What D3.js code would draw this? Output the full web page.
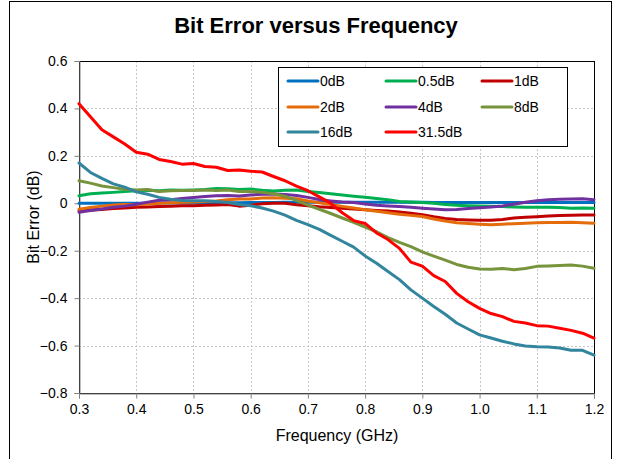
<!DOCTYPE html>
<html>
<head>
<meta charset="utf-8">
<script src="https://cdn.jsdelivr.net/npm/d3@7/dist/d3.min.js"></script>
<style>
  html, body { margin: 0; padding: 0; background: #fff; }
  svg { display: block; font-family: "Liberation Sans", Arial, sans-serif; }
</style>
</head>
<body>
<svg id="chart" width="621" height="459"></svg>
<script>
const frequency = [0.30,0.32,0.34,0.36,0.38,0.40,0.42,0.44,0.46,0.48,0.50,0.52,0.54,0.56,0.58,0.60,0.62,0.64,0.66,0.68,0.70,0.72,0.74,0.76,0.78,0.80,0.82,0.84,0.86,0.88,0.90,0.92,0.94,0.96,0.98,1.00,1.02,1.04,1.06,1.08,1.10,1.12,1.14,1.16,1.18,1.20];

const seriesNames = ["0dB","0.5dB","1dB","2dB","4dB","8dB","16dB","31.5dB"];
const seriesColors = ["#0070C0","#00B050","#C00000","#E46C0A","#7030A0","#77933C","#31859C","#FF0000"];

const err0dB = [0.000,0.000,0.000,0.000,0.000,0.000,0.000,0.001,0.001,0.001,0.001,0.002,0.002,0.002,0.002,0.003,0.003,0.003,0.004,0.004,0.004,0.004,0.004,0.004,0.004,0.004,0.004,0.004,0.004,0.004,0.004,0.003,0.003,0.003,0.003,0.003,0.003,0.003,0.003,0.003,0.003,0.003,0.003,0.003,0.003,0.003];
const err05dB = [0.032,0.040,0.043,0.046,0.050,0.053,0.055,0.053,0.056,0.055,0.056,0.058,0.062,0.061,0.058,0.060,0.055,0.052,0.055,0.056,0.050,0.045,0.040,0.035,0.030,0.025,0.020,0.015,0.008,0.005,0.003,0.000,-0.005,-0.008,-0.010,-0.011,-0.012,-0.014,-0.016,-0.017,-0.017,-0.017,-0.018,-0.021,-0.020,-0.021];
const err1dB = [-0.032,-0.028,-0.026,-0.022,-0.020,-0.017,-0.016,-0.014,-0.012,-0.010,-0.010,-0.008,-0.007,-0.005,-0.012,-0.008,-0.002,0.000,0.000,-0.006,-0.010,-0.015,-0.018,-0.021,-0.024,-0.027,-0.030,-0.033,-0.037,-0.042,-0.048,-0.057,-0.064,-0.068,-0.070,-0.072,-0.072,-0.068,-0.062,-0.059,-0.057,-0.054,-0.052,-0.050,-0.049,-0.049];
const err2dB = [-0.025,-0.018,-0.012,-0.007,-0.005,-0.006,-0.003,0.000,0.002,0.004,0.005,0.008,0.010,0.015,0.018,0.018,0.022,0.023,0.021,0.019,0.010,0.002,-0.005,-0.013,-0.020,-0.027,-0.034,-0.040,-0.046,-0.051,-0.056,-0.066,-0.075,-0.082,-0.085,-0.088,-0.090,-0.088,-0.086,-0.084,-0.082,-0.081,-0.081,-0.080,-0.082,-0.084];
const err4dB = [-0.038,-0.030,-0.024,-0.017,-0.012,-0.004,0.005,0.013,0.015,0.020,0.024,0.029,0.032,0.033,0.031,0.035,0.038,0.039,0.037,0.033,0.025,0.016,0.010,0.005,0.003,-0.003,-0.008,-0.011,-0.014,-0.017,-0.021,-0.024,-0.027,-0.026,-0.022,-0.019,-0.016,-0.011,-0.004,0.004,0.011,0.015,0.017,0.018,0.019,0.015];
const err8dB = [0.095,0.085,0.073,0.066,0.059,0.056,0.058,0.050,0.053,0.054,0.054,0.056,0.054,0.056,0.050,0.050,0.046,0.040,0.030,0.012,-0.008,-0.025,-0.043,-0.062,-0.080,-0.100,-0.120,-0.145,-0.165,-0.183,-0.205,-0.223,-0.240,-0.258,-0.270,-0.277,-0.278,-0.275,-0.280,-0.275,-0.266,-0.264,-0.262,-0.260,-0.265,-0.274];
const err16dB = [0.170,0.130,0.105,0.082,0.068,0.048,0.038,0.025,0.017,0.012,0.011,0.011,0.008,0.003,-0.005,-0.010,-0.020,-0.033,-0.050,-0.072,-0.090,-0.110,-0.135,-0.160,-0.185,-0.222,-0.253,-0.288,-0.322,-0.365,-0.400,-0.435,-0.468,-0.505,-0.530,-0.555,-0.568,-0.582,-0.593,-0.602,-0.605,-0.606,-0.610,-0.620,-0.620,-0.640];
const err315dB = [0.420,0.365,0.310,0.280,0.250,0.215,0.207,0.185,0.176,0.165,0.168,0.155,0.152,0.138,0.140,0.135,0.132,0.113,0.095,0.072,0.053,0.027,0.000,-0.040,-0.073,-0.085,-0.125,-0.153,-0.190,-0.248,-0.265,-0.305,-0.330,-0.380,-0.415,-0.443,-0.465,-0.478,-0.498,-0.505,-0.516,-0.518,-0.527,-0.536,-0.548,-0.569];

const xTicks = [0.3,0.4,0.5,0.6,0.7,0.8,0.9,1.0,1.1,1.2];
const yTicks = [0.6,0.4,0.2,0,-0.2,-0.4,-0.6,-0.8];

const seriesValues = [err0dB, err05dB, err1dB, err2dB, err4dB, err8dB, err16dB, err315dB];
const series = seriesNames.map((name, i) => ({
  name, color: seriesColors[i],
  points: frequency.map((f, j) => ({ f, v: seriesValues[i][j] }))
}));

const svg = d3.select("#chart");

// outer chart frame
svg.append("rect").attr("x", 9.5).attr("y", 1.5).attr("width", 602).attr("height", 470)
  .attr("fill", "#fff").attr("stroke", "#000").attr("stroke-width", 1);

const L = 79, R = 594, T = 61, B = 393;
const x = d3.scaleLinear().domain([0.3, 1.2]).range([L, R]);
const y = d3.scaleLinear().domain([-0.8, 0.6]).range([B, T]);

// gridlines
const grid = svg.append("g").attr("stroke", "#c8c8c8").attr("stroke-width", 1).attr("stroke-dasharray", "2,2");
grid.selectAll("line.v").data(xTicks.slice(1, -1)).join("line")
  .attr("x1", d => Math.round(x(d)) + 0.5).attr("x2", d => Math.round(x(d)) + 0.5)
  .attr("y1", T).attr("y2", B);
grid.selectAll("line.h").data(yTicks.slice(1, -1)).join("line")
  .attr("y1", d => Math.round(y(d)) + 0.5).attr("y2", d => Math.round(y(d)) + 0.5)
  .attr("x1", L).attr("x2", R);

// plot border
svg.append("rect").attr("x", L + 0.5).attr("y", T + 0.5).attr("width", R - L).attr("height", B - T)
  .attr("fill", "none").attr("stroke", "#000").attr("stroke-width", 1);

// axes
const xAxis = d3.axisBottom(x).tickValues(xTicks).tickFormat(d3.format(".1f")).tickSizeOuter(0).tickSize(5).tickPadding(6);
const yAxis = d3.axisLeft(y).tickValues(yTicks).tickFormat(d => d === 0 ? "0" : d3.format(".1f")(d)).tickSizeOuter(0).tickSize(5).tickPadding(7);

const gx = svg.append("g").attr("transform", `translate(0,${B + 0.5})`).call(xAxis);
const gy = svg.append("g").attr("transform", `translate(${L + 0.5},0)`).call(yAxis);
[gx, gy].forEach(g => {
  g.select(".domain").attr("stroke", "#808080");
  g.selectAll(".tick line").attr("stroke", "#808080");
  g.selectAll(".tick text").attr("fill", "#000").attr("font-size", 14).attr("font-family", "Liberation Sans, Arial, sans-serif");
});

// lines
const line = d3.line().x(d => x(d.f)).y(d => y(d.v));
svg.append("g").attr("clip-path", null).selectAll("path").data(series).join("path")
  .attr("d", d => line(d.points))
  .attr("fill", "none").attr("stroke", d => d.color).attr("stroke-width", 3)
  .attr("stroke-linejoin", "round").attr("stroke-linecap", "round");

// title
svg.append("text").attr("x", 316).attr("y", 33).attr("text-anchor", "middle")
  .attr("font-size", 22).attr("font-weight", "bold").text("Bit Error versus Frequency");

// axis titles
svg.append("text").attr("x", 337).attr("y", 441).attr("text-anchor", "middle")
  .attr("font-size", 16).text("Frequency (GHz)");
svg.append("text").attr("transform", "translate(39,217) rotate(-90)").attr("text-anchor", "middle")
  .attr("font-size", 16).text("Bit Error (dB)");

// legend
const lg = svg.append("g");
lg.append("rect").attr("x", 278.5).attr("y", 67.5).attr("width", 289).attr("height", 79)
  .attr("fill", "#fff").attr("stroke", "#000").attr("stroke-width", 1);
const colX = [288, 386, 482];
const rowY = [81, 107, 132];
const items = lg.selectAll("g.item").data(series).join("g")
  .attr("transform", (d, i) => `translate(${colX[i % 3]},${rowY[Math.floor(i / 3)]})`);
items.append("line").attr("x1", 0).attr("x2", 30).attr("y1", 0).attr("y2", 0)
  .attr("stroke", d => d.color).attr("stroke-width", 3).attr("stroke-linecap", "round");
items.append("text").attr("x", 32).attr("y", 5).attr("font-size", 14).text(d => d.name);
</script>
</body>
</html>
